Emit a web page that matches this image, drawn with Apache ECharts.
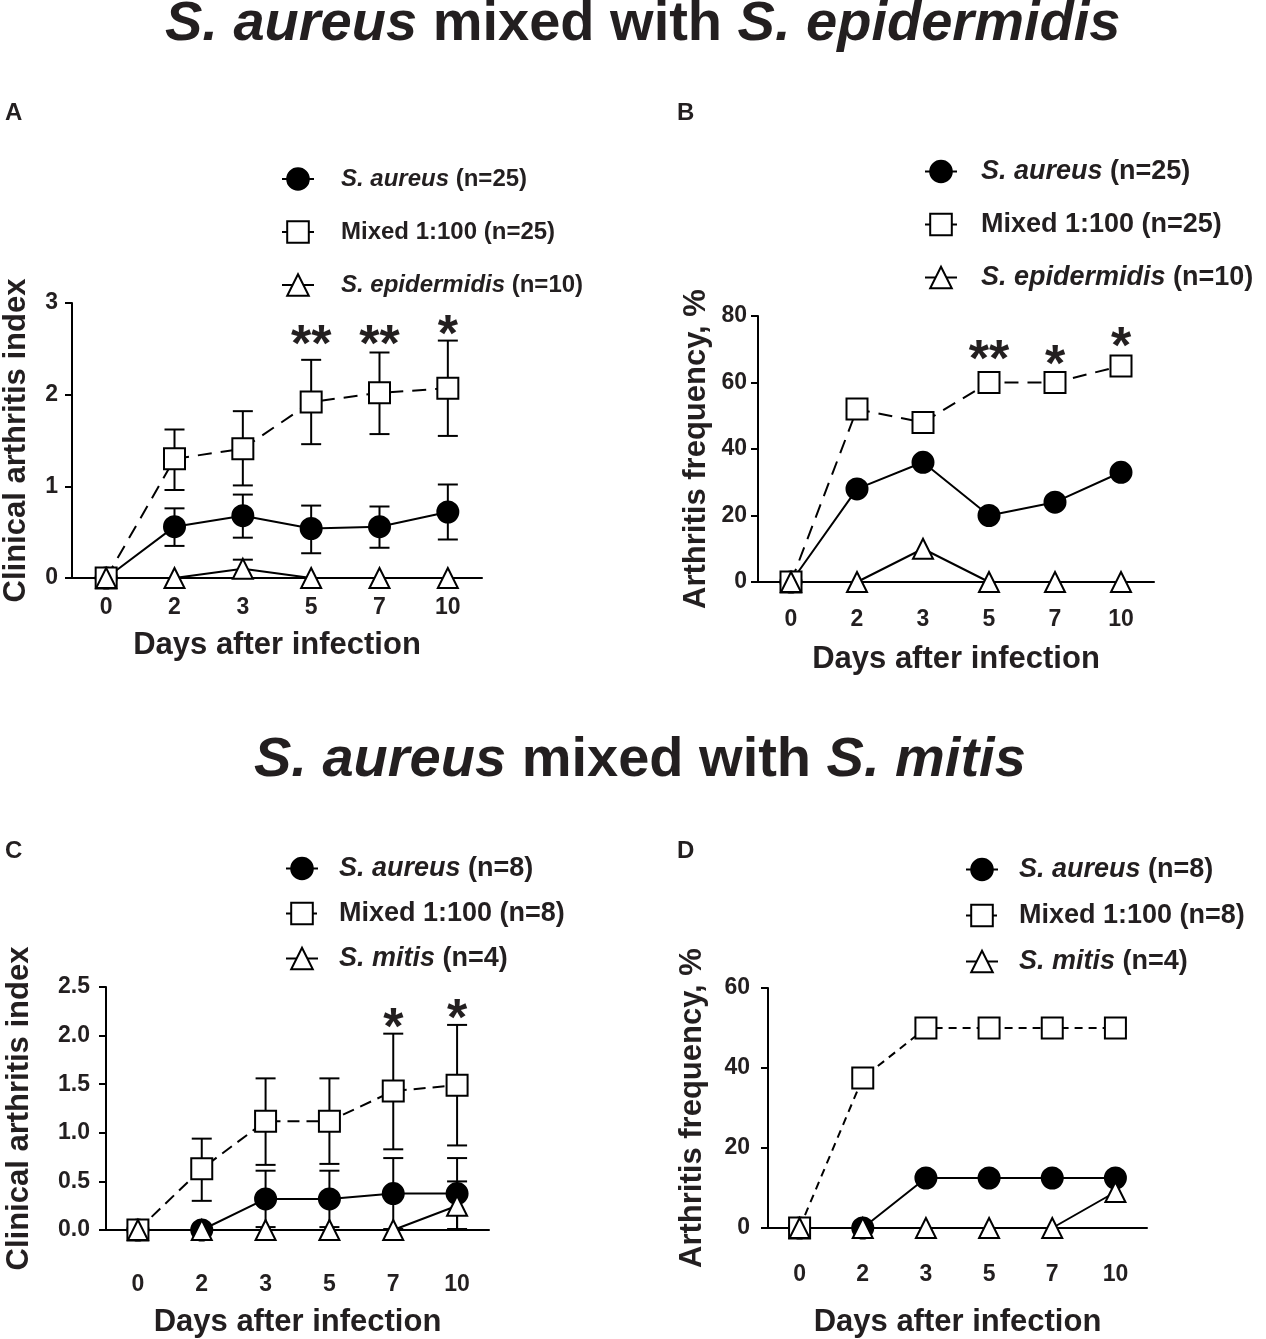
<!DOCTYPE html>
<html>
<head>
<meta charset="utf-8">
<script src="https://cdn.jsdelivr.net/npm/echarts@6/dist/echarts.min.js"></script>
<style>
  html, body { margin: 0; padding: 0; background: #fff; }
  #main { width: 1266px; height: 1339px; }
</style>
</head>
<body>
<div id="main"></div>
<script>
var FONT = "'Liberation Sans', Arial, sans-serif";
var INK = '#231f20';

// x categories (days after infection)
var days = ['0', '2', '3', '5', '7', '10'];

// A - clinical arthritis index, S. epidermidis
var aureusA = [0, 0.56, 0.68, 0.54, 0.56, 0.72];
var aureusAHi = [0, 0.76, 0.91, 0.79, 0.78, 1.02];
var aureusALo = [0, 0.35, 0.44, 0.27, 0.33, 0.42];
var mixedA = [0, 1.30, 1.41, 1.92, 2.02, 2.07];
var mixedAHi = [0, 1.62, 1.82, 2.38, 2.46, 2.59];
var mixedALo = [0, 0.96, 1.01, 1.46, 1.57, 1.55];
var epiA = [0, 0, 0.1, 0, 0, 0];
var epiAHi = [0, 0, 0.2, 0, 0, 0];
var epiALo = [0, 0, 0, 0, 0, 0];
var starsA = ['', '', '', '**', '**', '*'];
var starsAY = [0, 0, 0, 2.66, 2.66, 2.76];

// B - arthritis frequency %, S. epidermidis
var aureusB = [0, 28, 36, 20, 24, 33];
var mixedB = [0, 52, 48, 60, 60, 65];
var epiB = [0, 0, 10, 0, 0, 0];
var starsB = ['', '', '', '**', '*', '*'];
var starsBY = [0, 0, 0, 69.8, 68.3, 73.7];

// C - clinical arthritis index, S. mitis
var aureusC = [0, 0, 0.32, 0.32, 0.375, 0.375];
var aureusCHi = [0, 0, 0.61, 0.61, 0.74, 0.74];
var aureusCLo = [0, 0, 0.03, 0.03, 0.01, 0.01];
var mixedC = [0, 0.63, 1.12, 1.12, 1.43, 1.49];
var mixedCHi = [0, 0.94, 1.56, 1.56, 2.02, 2.11];
var mixedCLo = [0, 0.30, 0.67, 0.68, 0.83, 0.87];
var mitisC = [0, 0, 0, 0, 0, 0.25];
var mitisCHi = [0, 0, 0, 0, 0, 0.5];
var mitisCLo = [0, 0, 0, 0, 0, 0];
var starsC = ['', '', '', '', '*', '*'];
var starsCY = [0, 0, 0, 0, 2.18, 2.28];

// D - arthritis frequency %, S. mitis
var aureusD = [0, 0, 12.5, 12.5, 12.5, 12.5];
var mixedD = [0, 37.5, 50, 50, 50, 50];
var mitisD = [0, 0, 0, 0, 0, 9];

var namesTop = ['S. aureus (n=25)', 'Mixed 1:100 (n=25)', 'S. epidermidis (n=10)'];
var namesBot = ['S. aureus (n=8)', 'Mixed 1:100 (n=8)', 'S. mitis (n=4)'];

var panels = [
    {
        grid: {left: 71, top: 303, width: 411, height: 275},
        max: 3, step: 1, fmt: function (v) { return v; },
        yName: 'Clinical arthritis index', yGap: 40, xGap: 52, lblMargin: 18, yMargin: 14,
        dash: [14, 9],
        lines: [
            {name: namesTop[0], kind: 'circle', v: aureusA, hi: aureusAHi, lo: aureusALo},
            {name: namesTop[1], kind: 'square', v: mixedA, hi: mixedAHi, lo: mixedALo},
            {name: namesTop[2], kind: 'triangle', v: epiA, hi: epiAHi, lo: epiALo}
        ],
        stars: starsA, starY: starsAY,
        legend: {left: 276, top: 162, gap: 29, size: 24, pad: 22}
    },
    {
        grid: {left: 758, top: 316, width: 396, height: 266},
        max: 80, step: 20, fmt: function (v) { return v; },
        yName: 'Arthritis frequency, %', yGap: 46, xGap: 62, lblMargin: 26, yMargin: 11,
        dash: [14, 9],
        lines: [
            {name: namesTop[0], kind: 'circle', v: aureusB},
            {name: namesTop[1], kind: 'square', v: mixedB},
            {name: namesTop[2], kind: 'triangle', v: epiB}
        ],
        stars: starsB, starY: starsBY,
        legend: {left: 919, top: 153, gap: 26, size: 27, pad: 19}
    },
    {
        grid: {left: 106, top: 987, width: 383, height: 256},
        max: 2.5, step: 0.5, fmt: function (v) { return v.toFixed(1); },
        yName: 'Clinical arthritis index', yGap: 71, xGap: 77, lblMargin: 43, yMargin: 16,
        dash: [12, 7],
        lines: [
            {name: namesBot[0], kind: 'circle', v: aureusC, hi: aureusCHi, lo: aureusCLo},
            {name: namesBot[1], kind: 'square', v: mixedC, hi: mixedCHi, lo: mixedCLo},
            {name: namesBot[2], kind: 'triangle', v: mitisC, hi: mitisCHi, lo: mitisCLo}
        ],
        stars: starsC, starY: starsCY,
        legend: {left: 280, top: 850, gap: 18, size: 27, pad: 16}
    },
    {
        grid: {left: 768, top: 988, width: 379, height: 253},
        max: 60, step: 20, fmt: function (v) { return v; },
        yName: 'Arthritis frequency, %', yGap: 60, xGap: 79, lblMargin: 35, yMargin: 18,
        dash: [8, 6],
        lines: [
            {name: namesBot[0], kind: 'circle', v: aureusD},
            {name: namesBot[1], kind: 'square', v: mixedD},
            {name: namesBot[2], kind: 'triangle', v: mitisD}
        ],
        stars: null,
        legend: {left: 960, top: 851, gap: 19, size: 27, pad: 16}
    }
];

function symbolStyle(kind, dash) {
    if (kind === 'circle') {
        return {symbol: 'circle', size: 21, fill: '#000', line: 'solid'};
    }
    if (kind === 'square') {
        return {symbol: 'rect', size: 21, fill: '#fff', line: dash};
    }
    return {symbol: 'triangle', size: 20, fill: '#fff', line: 'solid'};
}

function legendText(name) {
    var p = name.indexOf(' (');
    if (name.indexOf('S.') === 0) {
        return '{i|' + name.slice(0, p) + '}{n|' + name.slice(p) + '}';
    }
    return '{n|' + name + '}';
}

function bigTitle(text, left, top) {
    return {
        text: text, left: left, top: top,
        textStyle: {rich: {
            i: {fontFamily: FONT, fontSize: 56, fontWeight: 'bold', fontStyle: 'italic', color: INK},
            n: {fontFamily: FONT, fontSize: 56, fontWeight: 'bold', color: INK}
        }}
    };
}

function letter(t, x, y) {
    return {text: t, left: x, top: y, padding: 0,
        textStyle: {fontFamily: FONT, fontSize: 24, fontWeight: 'bold', color: INK}};
}

var option = {
    backgroundColor: '#fff',
    animation: false,
    textStyle: {fontFamily: FONT, color: INK},
    title: [
        bigTitle('{i|S. aureus}{n| mixed with }{i|S. epidermidis}', 160, -8),
        bigTitle('{i|S. aureus}{n| mixed with }{i|S. mitis}', 249, 728),
        letter('A', 5, 101), letter('B', 677, 101),
        letter('C', 5, 839), letter('D', 677, 839)
    ],
    grid: [], xAxis: [], yAxis: [], legend: [], series: []
};

panels.forEach(function (p, k) {
    option.grid.push(p.grid);
    option.xAxis.push({
        type: 'category', gridIndex: k, data: days, boundaryGap: true,
        name: 'Days after infection', nameLocation: 'middle', nameGap: p.xGap,
        nameTextStyle: {fontFamily: FONT, fontSize: 31, fontWeight: 'bold', color: INK},
        axisLine: {lineStyle: {color: '#000', width: 2}},
        axisTick: {alignWithLabel: true, length: 7, lineStyle: {color: '#000', width: 2}},
        axisLabel: {fontFamily: FONT, fontSize: 23, fontWeight: 'bold', color: INK, margin: p.lblMargin},
        splitLine: {show: false}
    });
    option.yAxis.push({
        type: 'value', gridIndex: k, min: 0, max: p.max, interval: p.step,
        name: p.yName, nameLocation: 'middle', nameGap: p.yGap,
        nameTextStyle: {fontFamily: FONT, fontSize: 31, fontWeight: 'bold', color: INK},
        axisLine: {show: true, lineStyle: {color: '#000', width: 2}},
        axisTick: {show: true, length: 7, lineStyle: {color: '#000', width: 2}},
        axisLabel: {fontFamily: FONT, fontSize: 23, fontWeight: 'bold', color: INK, margin: p.yMargin, formatter: p.fmt},
        splitLine: {show: false}
    });
    option.legend.push({
        data: p.lines.map(function (l) { return l.name; }),
        orient: 'vertical', left: p.legend.left, top: p.legend.top,
        itemGap: p.legend.gap, itemWidth: 32, itemHeight: 27,
        selectedMode: false,
        formatter: legendText,
        textStyle: {
            padding: [0, 0, 0, p.legend.pad],
            rich: {
                i: {fontFamily: FONT, fontSize: p.legend.size, fontWeight: 'bold', fontStyle: 'italic', color: INK},
                n: {fontFamily: FONT, fontSize: p.legend.size, fontWeight: 'bold', color: INK}
            }
        }
    });

    p.lines.forEach(function (l) {
        var s = symbolStyle(l.kind, p.dash);
        if (l.hi) {
            var bars = l.v.map(function (v, i) { return [i, l.lo[i], l.hi[i]]; });
            option.series.push({
                type: 'custom', xAxisIndex: k, yAxisIndex: k, z: 1, silent: true,
                data: bars,
                renderItem: function (params, api) {
                    var top = api.coord([api.value(0), api.value(2)]);
                    var bot = api.coord([api.value(0), api.value(1)]);
                    if (Math.abs(top[1] - bot[1]) < 1) { return null; }
                    var w = 10;
                    var st = {stroke: '#000', lineWidth: 2};
                    return {type: 'group', children: [
                        {type: 'line', shape: {x1: top[0], y1: top[1], x2: bot[0], y2: bot[1]}, style: st},
                        {type: 'line', shape: {x1: top[0] - w, y1: top[1], x2: top[0] + w, y2: top[1]}, style: st},
                        {type: 'line', shape: {x1: bot[0] - w, y1: bot[1], x2: bot[0] + w, y2: bot[1]}, style: st}
                    ]};
                }
            });
        }
        option.series.push({
            name: l.name, type: 'line', xAxisIndex: k, yAxisIndex: k, z: 3,
            data: l.v,
            symbol: s.symbol, symbolSize: s.size, showAllSymbol: true,
            lineStyle: {color: '#000', width: 2, type: s.line},
            itemStyle: {color: s.fill, borderColor: '#000', borderWidth: 2, opacity: 1}
        });
    });

    if (p.stars) {
        var labels = p.stars;
        option.series.push({
            type: 'custom', xAxisIndex: k, yAxisIndex: k, z: 4, silent: true,
            data: p.starY.map(function (v, i) { return [i, v]; }),
            renderItem: function (params, api) {
                var t = labels[params.dataIndex];
                if (!t) { return null; }
                var c = api.coord([api.value(0), api.value(1)]);
                // the asterisk glyph sits high in its em box, so push the anchor down
                return {
                    type: 'text', x: c[0], y: c[1] + 12,
                    style: {text: t, fill: INK, font: 'bold 52px ' + FONT, align: 'center', verticalAlign: 'middle'}
                };
            }
        });
    }
});

var chart = echarts.init(document.getElementById('main'), null, {renderer: 'canvas'});
chart.setOption(option);
</script>
</body>
</html>
